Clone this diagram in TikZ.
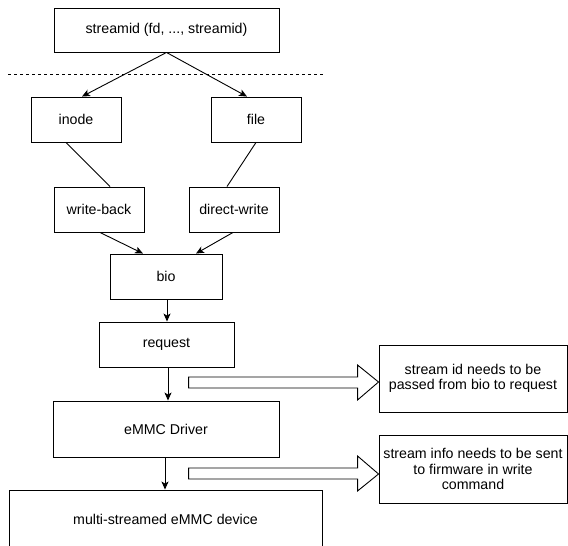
\documentclass[tikz,border=0pt]{standalone}
\usepackage{fontspec}
\setmainfont{Liberation Sans}
\usepackage{xcolor}
\usepackage{tikz}
\usetikzlibrary{arrows.meta}

\begin{document}
\begin{tikzpicture}[x=1pt, y=-1pt, line width=0.9pt,
    box/.style={draw, rectangle, inner sep=2pt, align=center, font=\fontsize{14.2}{15.5}\selectfont},
    arr/.style={-{Stealth[length=8pt,width=7pt,inset=2pt]}},
    fat/.style={draw, line join=miter}]
    \useasboundingbox (0,0) rectangle (568,546);

    \node[box, minimum width=225, minimum height=44] (sid) at (166.5,30) {streamid (fd, ..., streamid)};
    \node[box, minimum width=90, minimum height=45] (inode) at (76,119.5) {inode};
    \node[box, minimum width=90, minimum height=45] (file) at (256,119.5) {file};
    \node[box, minimum width=90, minimum height=45] (wb) at (99,209.5) {write-back};
    \node[box, minimum width=90, minimum height=45] (dw) at (234,209.5) {direct-write};
    \node[box, minimum width=112, minimum height=45] (bio) at (166,276.5) {bio};
    \node[box, minimum width=135, minimum height=45] (req) at (166.5,344.5) {request};
    \node[box, minimum width=226, minimum height=56] (drv) at (166,429) {eMMC Driver};
    \node[box, minimum width=313, minimum height=58] (dev) at (165.5,519) {multi-streamed eMMC device};
    \node[box, minimum width=188, minimum height=67] (note1) at (473,378.5) {stream id needs to be\\passed from bio to request};
    \node[box, minimum width=188, minimum height=68] (note2) at (473,469) {stream info needs to be sent\\to firmware in write\\command};

    \coordinate (cutl) at (8,74);
    \coordinate (cutr) at (323,74);
    \draw[dash pattern=on 3pt off 3pt] (cutl) -- (cutr);

    \draw[arr] (sid.south) -- ([xshift=6]inode.north);
    \draw[arr] (sid.south) -- ([xshift=-9]file.north);
    \draw ([xshift=-10]inode.south) -- ([xshift=11]wb.north);
    \draw (file.south) -- ([xshift=-7]dw.north);
    \draw[arr] ([xshift=1]wb.south) -- ([xshift=-23]bio.north);
    \draw[arr] ([xshift=-1]dw.south) -- ([xshift=30]bio.north);
    \draw[arr] ([xshift=1]bio.south) -- ([xshift=0.5]req.north);
    \draw[arr] ([xshift=1.5]req.south) -- ([xshift=2]drv.north);
    \draw[arr] ([xshift=-1]drv.south) -- ([xshift=-0.5]dev.north);

    \coordinate (tip1) at (note1.west |- 0,382);
    \coordinate (tip2) at (note2.west |- 0,474);
    \draw[fat] (tip1) -- ++(-21,-17) -- ++(0,12) -- ++(-169,0) -- ++(0,11) -- ++(169,0) -- ++(0,12) -- cycle;
    \draw[fat] (tip2) -- ++(-21,-18) -- ++(0,12) -- ++(-169,0) -- ++(0,11) -- ++(169,0) -- ++(0,12) -- cycle;
\end{tikzpicture}
\end{document}
